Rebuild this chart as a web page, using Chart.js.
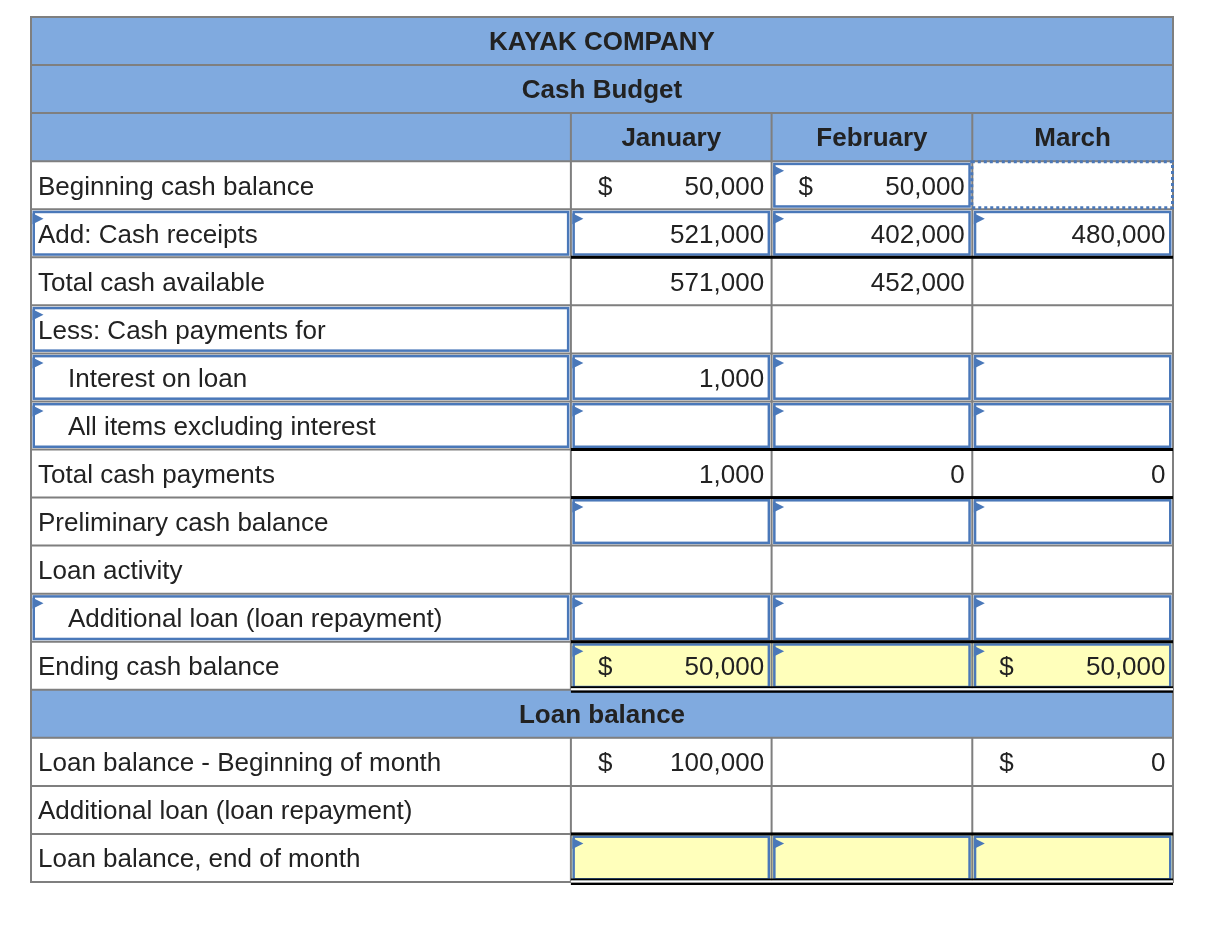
<!DOCTYPE html>
<html>
<head>
<meta charset="utf-8">
<title>Kayak Company - Cash Budget</title>
<script src="https://cdn.jsdelivr.net/npm/chart.js@4.4.0/dist/chart.umd.min.js"></script>
<style>
  html, body { margin: 0; padding: 0; background: #fff; }
  #wrap { position: relative; width: 1232px; height: 926px; }
</style>
</head>
<body>
<div id="wrap"><canvas id="cashBudget"></canvas></div>
<script>
// ----------- Table data --------- //
const rowLabels = [
  "KAYAK COMPANY",
  "Cash Budget",
  "",
  "Beginning cash balance",
  "Add: Cash receipts",
  "Total cash available",
  "Less: Cash payments for",
  "Interest on loan",
  "All items excluding interest",
  "Total cash payments",
  "Preliminary cash balance",
  "Loan activity",
  "Additional loan (loan repayment)",
  "Ending cash balance",
  "Loan balance",
  "Loan balance - Beginning of month",
  "Additional loan (loan repayment)",
  "Loan balance, end of month",
];
const months = ["January", "February", "March"];

// one value per row, null = blank cell
const january = [null, null, null, 50000, 521000, 571000, null, 1000, null, 1000, null, null, null, 50000, null, 100000, null, null];
const february = [null, null, null, 50000, 402000, 452000, null, null, null, 0, null, null, null, null, null, null, null, null];
const march = [null, null, null, null, 480000, null, null, null, null, 0, null, null, null, 50000, null, 0, null, null];
const monthValues = [january, february, march];

// rows whose filled values carry a "$"
const dollarRows = [3, 13, 15];

// ----------- Layout (not data) --------- //
const colWidths = [2.69, 1, 1, 1]; // label column is ~2.69 month columns wide
const colEdges = colWidths.reduce((acc, w) => acc.concat(acc[acc.length - 1] + w), [0]);
const tableWidth = colEdges[colEdges.length - 1];

const bannerRows = [0, 1, 14];
const headRow = 2;
const indentRows = [7, 8, 12];
const labelInputRows = [4, 6, 7, 8, 12];
const valueInputRows = [
  [4, 7, 8, 10, 12, 13, 17],
  [3, 4, 7, 8, 10, 12, 13, 17],
  [4, 7, 8, 10, 12, 13, 17],
];
const focusCell = { col: 3, row: 3 };
const yellowRows = [13, 17];
const totalLineRows = [4, 8, 9, 12, 16];
const doubleLineRows = [13, 17];

const HEADER_BLUE = "#80aadf";
const YELLOW = "#ffffbb";
const GRID = "#7f7f7f";
const INPUT_BLUE = "#4a78b9";
const TEXT = "#222222";
const FONT = '"Liberation Sans", Arial, Helvetica, sans-serif';
const FONT_SIZE = 26;

const isBody = (r) => r !== headRow && !bannerRows.includes(r);

// floating bars = cell backgrounds
const bannerBars = rowLabels.map((_, r) => (isBody(r) ? null : [0, tableWidth]));
const labelBars = rowLabels.map((_, r) => (isBody(r) ? [colEdges[0], colEdges[1]] : null));
const monthBars = (c) => rowLabels.map((_, r) => (isBody(r) ? [colEdges[c], colEdges[c + 1]] : null));

// ----------- Table drawing plugin --------- //
const tablePlugin = {
  id: "cashBudgetTable",
  afterDatasetsDraw(chart) {
    const ctx = chart.ctx;
    const xs = chart.scales.x;
    const ys = chart.scales.y;
    const band = ys.getPixelForValue(1) - ys.getPixelForValue(0);
    const mid = (r) => ys.getPixelForValue(r);
    const top = (r) => mid(r) - band / 2;
    const bot = (r) => mid(r) + band / 2;
    const edge = (i) => xs.getPixelForValue(colEdges[i]);
    const left = edge(0);
    const right = edge(colEdges.length - 1);
    const last = rowLabels.length - 1;

    ctx.save();

    // gray grid
    ctx.strokeStyle = GRID;
    ctx.lineWidth = 2;
    ctx.beginPath();
    rowLabels.forEach((_, r) => {
      ctx.moveTo(left, top(r));
      ctx.lineTo(right, top(r));
      if (!bannerRows.includes(r)) {
        for (let i = 1; i < colEdges.length - 1; i++) {
          ctx.moveTo(edge(i), top(r));
          ctx.lineTo(edge(i), bot(r));
        }
      }
    });
    ctx.moveTo(left, bot(last));
    ctx.lineTo(right, bot(last));
    ctx.moveTo(left, top(0) - 1);
    ctx.lineTo(left, bot(last) + 1);
    ctx.moveTo(right, top(0) - 1);
    ctx.lineTo(right, bot(last) + 1);
    ctx.stroke();

    // input boxes with their little triangle
    const inputBox = (c, r) => {
      const x0 = edge(c) + 1.5;
      const x1 = edge(c + 1) - 1.5;
      const y0 = top(r) + 1.5;
      const y1 = bot(r) - 1.5;
      ctx.strokeStyle = INPUT_BLUE;
      ctx.lineWidth = 2.5;
      ctx.strokeRect(x0 + 1.25, y0 + 1.25, x1 - x0 - 2.5, y1 - y0 - 2.5);
      ctx.fillStyle = INPUT_BLUE;
      ctx.beginPath();
      ctx.moveTo(x0, y0 + 2.5);
      ctx.lineTo(x0 + 11, y0 + 8);
      ctx.lineTo(x0, y0 + 13.5);
      ctx.closePath();
      ctx.fill();
    };
    labelInputRows.forEach((r) => inputBox(0, r));
    valueInputRows.forEach((rows, i) => rows.forEach((r) => inputBox(i + 1, r)));

    // focused (dotted) cell
    ctx.save();
    ctx.strokeStyle = INPUT_BLUE;
    ctx.lineWidth = 3;
    ctx.setLineDash([3, 3]);
    ctx.strokeRect(edge(focusCell.col) - 0.5, top(focusCell.row) + 0.5,
      edge(focusCell.col + 1) - edge(focusCell.col), band - 2);
    ctx.restore();

    // total lines under value columns
    const vx = edge(1);
    const vw = right - vx;
    ctx.fillStyle = "#000";
    totalLineRows.forEach((r) => ctx.fillRect(vx, bot(r) - 1.5, vw, 3));
    doubleLineRows.forEach((r) => {
      ctx.fillStyle = "#000";
      ctx.fillRect(vx, bot(r) - 3.5, vw, 2);
      ctx.fillRect(vx, bot(r) + 0.5, vw, 2.5);
      ctx.fillStyle = "#fff";
      ctx.fillRect(vx, bot(r) - 1.5, vw, 2);
    });

    // text
    const capHalf = FONT_SIZE * 0.716 / 2;
    ctx.fillStyle = TEXT;
    ctx.textBaseline = "alphabetic";

    ctx.font = `bold ${FONT_SIZE}px ${FONT}`;
    ctx.textAlign = "center";
    bannerRows.forEach((r) => ctx.fillText(rowLabels[r], (left + right) / 2, mid(r) + capHalf));
    months.forEach((m, i) => ctx.fillText(m, (edge(i + 1) + edge(i + 2)) / 2, mid(headRow) + capHalf));

    ctx.font = `${FONT_SIZE}px ${FONT}`;
    rowLabels.forEach((label, r) => {
      if (!isBody(r)) return;
      ctx.textAlign = "left";
      ctx.fillText(label, left + 7 + (indentRows.includes(r) ? 30 : 0), mid(r) + capHalf);
      monthValues.forEach((vals, i) => {
        const v = vals[r];
        if (v === null) return;
        const c = i + 1;
        ctx.textAlign = "right";
        ctx.fillText(v.toLocaleString("en-US"), edge(c + 1) - 7.5, mid(r) + capHalf);
        if (dollarRows.includes(r)) {
          ctx.textAlign = "left";
          ctx.fillText("$", edge(c) + 27, mid(r) + capHalf);
        }
      });
    });

    ctx.restore();
  },
};

// ----------- Chart --------- //
const cashBudget = document.getElementById("cashBudget");

new Chart(cashBudget, {
  type: "bar",
  data: {
    labels: rowLabels,
    datasets: [
      { label: "Header", data: bannerBars, backgroundColor: HEADER_BLUE },
      { label: "Label", data: labelBars, backgroundColor: "#ffffff" },
      ...months.map((m, i) => ({
        label: m,
        data: monthBars(i + 1),
        backgroundColor: (ctx) => (yellowRows.includes(ctx.dataIndex) ? YELLOW : "#ffffff"),
      })),
    ],
  },
  options: {
    indexAxis: "y",
    responsive: true,
    maintainAspectRatio: false,
    animation: false,
    layout: { padding: { left: 31, right: 59, top: 17, bottom: 44 } },
    datasets: {
      bar: {
        grouped: false,
        barPercentage: 1,
        categoryPercentage: 1,
        borderWidth: 0,
      },
    },
    scales: {
      x: { type: "linear", min: 0, max: tableWidth, display: false },
      y: { type: "category", display: false },
    },
    plugins: {
      legend: { display: false },
      tooltip: { enabled: false },
    },
  },
  plugins: [tablePlugin],
});
</script>
</body>
</html>
